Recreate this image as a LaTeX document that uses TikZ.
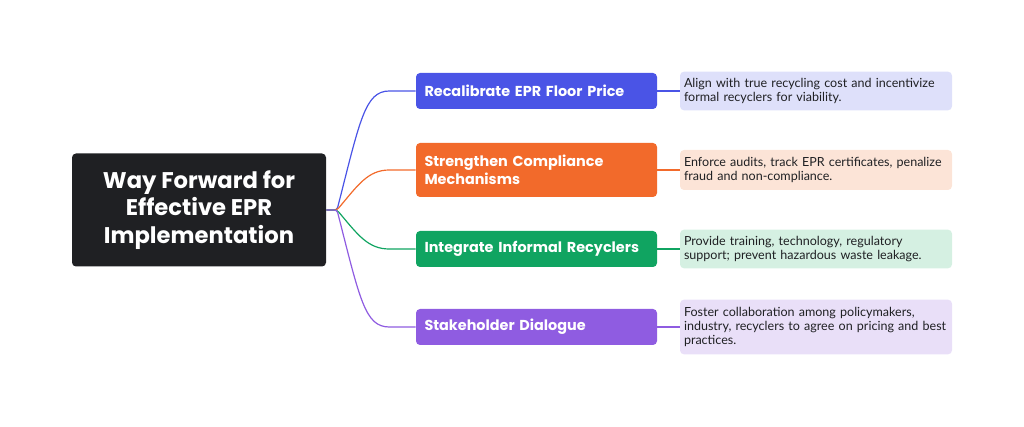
\documentclass[tikz,border=0pt]{standalone}
\usepackage{fontspec}
\setmainfont{Poppins}
\newfontfamily\descfont{Lato}
\usetikzlibrary{positioning}
\definecolor{rootc}{HTML}{1F2023}
\definecolor{bluec}{HTML}{4A54E6}
\definecolor{orangec}{HTML}{F26A2B}
\definecolor{greenc}{HTML}{10A461}
\definecolor{purplec}{HTML}{8F5CE1}
\definecolor{bluel}{HTML}{DEE0FA}
\definecolor{orangel}{HTML}{FCE4D7}
\definecolor{greenl}{HTML}{D5F0E2}
\definecolor{purplel}{HTML}{E9DFF8}
\begin{document}
\begin{tikzpicture}[
  x=0.75pt, y=-0.75pt,
  rootbox/.style={rectangle, rounded corners=3pt, fill=rootc, text=white, minimum width=190.5pt, minimum height=84.75pt, font=\fontsize{17}{20.5}\selectfont\bfseries, align=center},
  branch/.style={rectangle, rounded corners=3pt, text=white, minimum width=180.75pt, minimum height=27pt, text width=168pt, align=left, font=\fontsize{10.8}{13.5}\selectfont\bfseries},
  desc/.style={rectangle, rounded corners=3pt, minimum width=204pt, text width=198pt, align=left, inner xsep=3pt, font=\descfont\fontsize{9.4}{10.8}\selectfont, text=rootc},
  link/.style={line width=0.9pt, rounded corners=2pt}
]
\useasboundingbox (0,0) rectangle (1024,427);

% root
\node[rootbox] (root) at (199,210) {Way Forward for\\Effective EPR\\Implementation};

% branches
\node[branch, fill=bluec] (recal) at (536.5,91) {Recalibrate EPR Floor Price};
\node[branch, fill=orangec, minimum height=40.5pt] (comply) at (536.5,170) {Strengthen Compliance\\Mechanisms};
\node[branch, fill=greenc] (integ) at (536.5,249) {Integrate Informal Recyclers};
\node[branch, fill=purplec] (dialog) at (536.5,327) {Stakeholder Dialogue};

% descriptions
\node[desc, fill=bluel, minimum height=29pt] (recal-d) at (816,91) {Align with true recycling cost and incentivize\\formal recyclers for viability.};
\node[desc, fill=orangel, minimum height=30pt] (comply-d) at (816,170) {Enforce audits, track EPR certificates, penalize\\fraud and non-compliance.};
\node[desc, fill=greenl, minimum height=29pt] (integ-d) at (816,249) {Provide training, technology, regulatory\\support; prevent hazardous waste leakage.};
\node[desc, fill=purplel, minimum height=41pt] (dialog-d) at (816,327) {Foster collaboration among policymakers,\\industry, recyclers to agree on pricing and best\\practices.};

% connectors
\coordinate (hub) at (337,210);
\draw[link, bluec] (root.east) -- (hub) .. controls (360,120) and (365,91) .. (392,91) -- (recal.west);
\draw[link, orangec] (root.east) -- (hub) .. controls (358,185) and (368,170) .. (392,170) -- (comply.west);
\draw[link, greenc] (root.east) -- (hub) .. controls (358,235) and (368,249) .. (392,249) -- (integ.west);
\draw[link, purplec] (root.east) -- (hub) .. controls (360,300) and (365,327) .. (392,327) -- (dialog.west);
\draw[link, bluec] (recal) -- (recal-d);
\draw[link, orangec] (comply) -- (comply-d);
\draw[link, greenc] (integ) -- (integ-d);
\draw[link, purplec] (dialog) -- (dialog-d);
\end{tikzpicture}
\end{document}
